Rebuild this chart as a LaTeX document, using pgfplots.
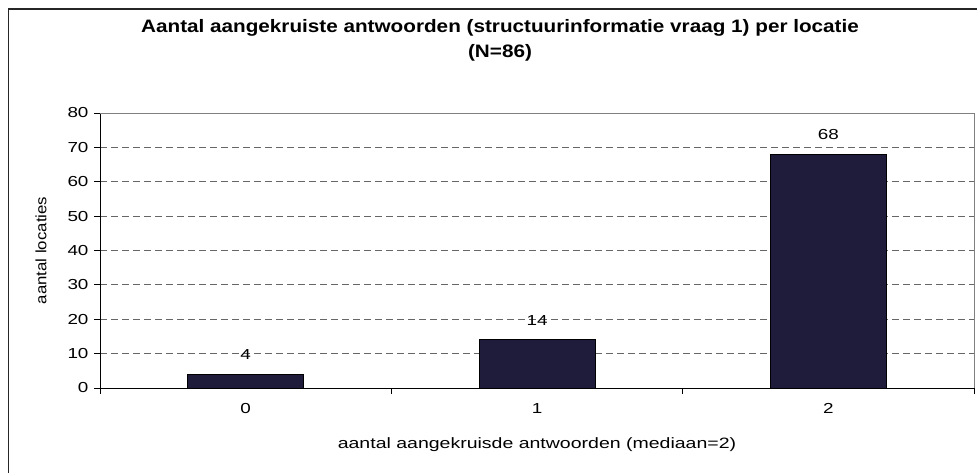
\documentclass[border=0pt]{standalone}
\usepackage{fontspec}
\setmainfont{Liberation Sans}[FakeStretch=1.3]
\newfontfamily\titlefont{Liberation Sans}[FakeStretch=1.15]
\newfontfamily\ylabfont{Liberation Sans}[FakeStretch=1.12]
\usepackage{pgfplots}
\pgfplotsset{compat=1.18}
\definecolor{barcol}{HTML}{1E1C3A}
\begin{document}
\begin{tikzpicture}[x=1pt,y=1pt]
\useasboundingbox (0,0) rectangle (977,472);
\draw[line width=1.1pt, black!85] (8.5,-2) -- (8.5,463) -- (980,463);
\begin{axis}[
  at={(100pt,84pt)}, anchor=south west,
  scale only axis, width=874pt, height=275pt,
  xmin=-0.5, xmax=2.5, ymin=0, ymax=80,
  axis x line*=bottom, axis y line*=left,
  axis line style={line width=0.9pt, black},
  xtick={-0.5,0.5,1.5,2.5}, xticklabels={},
  extra x ticks={0,1,2}, extra x tick labels={0,1,2},
  extra x tick style={major tick length=0pt},
  ytick={0,10,...,80},
  tick align=outside,
  major tick length=6pt,
  every tick/.style={black, line width=0.9pt},
  ymajorgrids,
  major grid style={black!60, line width=0.9pt, dash pattern=on 7pt off 4pt},
  /pgf/number format/assume math mode=true,
  tick label style={font=\fontsize{14.5}{16}\selectfont},
  xticklabel style={yshift=-12pt},
  yticklabel style={xshift=-2pt},
  title={Aantal aangekruiste antwoorden (structuurinformatie vraag 1) per locatie\\(N=86)},
  title style={at={(axis description cs:0.4577,1)}, anchor=center, yshift=67pt, align=center, font=\titlefont\bfseries\fontsize{18}{25}\selectfont},
  xlabel={aantal aangekruisde antwoorden (mediaan=2)},
  xlabel style={at={(axis description cs:0.5,0)}, anchor=center, yshift=-57pt, font=\fontsize{15}{17}\selectfont},
  ylabel={aantal locaties},
  ylabel style={at={(axis description cs:-0.0675,0.5)}, anchor=center, font=\ylabfont\fontsize{15}{17}\selectfont},
  nodes near coords,
  nodes near coords style={font=\fontsize{14.5}{16}\selectfont, anchor=south, yshift=11pt},
  clip=false,
]
\addplot[ybar, bar width=116pt, fill=barcol, draw=black, line width=0.8pt] coordinates {(0,4) (1,14) (2,68)};
\draw[black!50, line width=0.9pt] (rel axis cs:0,1) -- (rel axis cs:1,1) -- (rel axis cs:1,0);
\end{axis}
\end{tikzpicture}
\end{document}
